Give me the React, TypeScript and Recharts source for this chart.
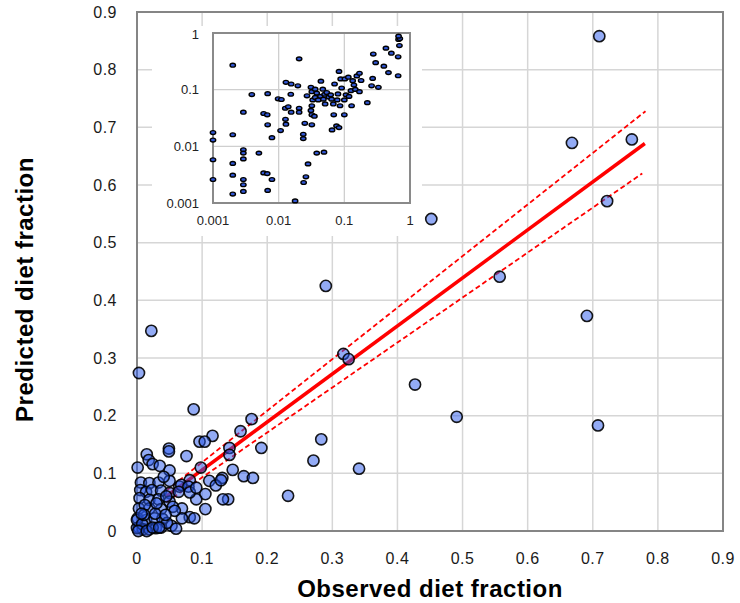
import {
  CartesianGrid,
  Label,
  ReferenceArea,
  Scatter,
  ScatterChart,
  XAxis,
  YAxis,
} from "recharts";

// main plot: observed vs predicted diet fraction
const mainTicks = [0, 0.1, 0.2, 0.3, 0.4, 0.5, 0.6, 0.7, 0.8, 0.9];

const observedX = [
  0.71, 0.668, 0.76, 0.722, 0.557, 0.691, 0.708, 0.452, 0.29, 0.317, 0.325, 0.427, 0.491,
  0.176, 0.159, 0.191, 0.142, 0.142, 0.147, 0.164, 0.178, 0.283, 0.271, 0.341, 0.232,
  0.003, 0.022, 0.087, 0.116, 0.096, 0.104, 0.049, 0.049, 0.015, 0.018, 0.076, 0.001,
  0.024, 0.035, 0.098, 0.05, 0.131, 0.111, 0.121, 0.14, 0.132, 0.105, 0.105, 0.091,
  0.069, 0.081, 0.088, 0.069, 0.053, 0.081, 0.065, 0.006, 0.019, 0.033, 0.05, 0.041,
  0.068, 0.079, 0.005, 0.014, 0.023, 0.037, 0.05, 0.064, 0.081, 0.091, 0.129, 0.004,
  0.019, 0.033, 0.05, 0.003, 0.019, 0.037, 0.055, 0.001, 0.014, 0.027, 0.039, 0.003,
  0.009, 0.019, 0.029, 0.037, 0.0, 0.0, 0.058, 0.045, 0.012, 0.028, 0.008, 0.046, 0.06,
  0.002, 0.015, 0.024, 0.034, 0.011, 0.03, 0.044, 0.007,
];
const predictedY = [
  0.858, 0.673, 0.679, 0.572, 0.441, 0.373, 0.183, 0.541, 0.425, 0.307, 0.298, 0.254, 0.198,
  0.194, 0.173, 0.144, 0.144, 0.132, 0.106, 0.095, 0.092, 0.159, 0.122, 0.108, 0.061,
  0.274, 0.347, 0.211, 0.165, 0.155, 0.155, 0.143, 0.138, 0.133, 0.123, 0.13, 0.11,
  0.116, 0.113, 0.11, 0.105, 0.092, 0.087, 0.079, 0.055, 0.055, 0.064, 0.038, 0.055,
  0.039, 0.024, 0.022, 0.022, 0.009, 0.088, 0.077, 0.084, 0.083, 0.084, 0.087, 0.094,
  0.08, 0.077, 0.071, 0.068, 0.071, 0.07, 0.066, 0.068, 0.067, 0.075, 0.088, 0.057,
  0.054, 0.055, 0.051, 0.039, 0.039, 0.038, 0.042, 0.022, 0.019, 0.022, 0.021, 0.006,
  0.003, 0.003, 0.005, 0.006, 0.005, 0.019, 0.035, 0.06, 0.045, 0.03, 0.012, 0.014, 0.004,
  0.0, 0.0, 0.006, 0.006, 0.028, 0.048, 0.028, 0.03,
];

// fitted line and its confidence band
const fitX = [0.045, 0.78];
const fitY = [0.06, 0.672];
const upperX = [0.045, 0.781];
const upperY = [0.07, 0.728];
const lowerX = [0.045, 0.776];
const lowerY = [0.05, 0.62];

// inset: same data on log-log axes
const logTicks = [0.001, 0.01, 0.1, 1];

const insetX = [
  0.002, 0.0205, 0.001, 0.001, 0.001, 0.001, 0.002, 0.002, 0.002, 0.002, 0.0029, 0.0029,
  0.0029, 0.0029, 0.0029, 0.0029, 0.0029, 0.0039, 0.005, 0.0059, 0.0067, 0.0059, 0.0067,
  0.0079, 0.0068, 0.0068, 0.0068, 0.0079, 0.0098, 0.011, 0.0107, 0.0129, 0.0155, 0.0153,
  0.0126, 0.014, 0.0155, 0.0127, 0.0129, 0.0196, 0.0205, 0.0205, 0.025, 0.0237, 0.0237,
  0.028, 0.026, 0.024, 0.0178, 0.027, 0.031, 0.032, 0.033, 0.032, 0.031, 0.032, 0.035,
  0.032, 0.044, 0.038, 0.049, 0.036, 0.038, 0.043, 0.036, 0.04, 0.047, 0.05, 0.048, 0.054,
  0.058, 0.051, 0.062, 0.071, 0.064, 0.068, 0.078, 0.069, 0.065, 0.076, 0.083, 0.083,
  0.08, 0.091, 0.086, 0.1, 0.1, 0.088, 0.102, 0.115, 0.106, 0.118, 0.126, 0.134, 0.14,
  0.147, 0.129, 0.155, 0.17, 0.17, 0.18, 0.224, 0.27, 0.26, 0.276, 0.3, 0.33, 0.43, 0.4,
  0.47, 0.52, 0.66, 0.66, 0.67, 0.7, 0.67, 0.69,
];
const insetY = [
  0.27, 0.35, 0.0175, 0.0129, 0.0058, 0.0026, 0.016, 0.005, 0.0031, 0.00144, 0.04, 0.0087,
  0.0076, 0.006, 0.0026, 0.0021, 0.0016, 0.082, 0.0076, 0.038, 0.036, 0.0034, 0.0033,
  0.0026, 0.085, 0.024, 0.00167, 0.0142, 0.069, 0.067, 0.019, 0.135, 0.126, 0.083, 0.047,
  0.05, 0.04, 0.03, 0.0246, 0.117, 0.047, 0.04, 0.0255, 0.0163, 0.0137, 0.0049, 0.0029,
  0.0023, 0.00109, 0.078, 0.11, 0.092, 0.066, 0.052, 0.043, 0.036, 0.034, 0.024, 0.141,
  0.0076, 0.0079, 0.102, 0.087, 0.076, 0.073, 0.066, 0.102, 0.083, 0.068, 0.089, 0.074,
  0.056, 0.081, 0.126, 0.068, 0.056, 0.066, 0.036, 0.0195, 0.023, 0.0214, 0.21, 0.084,
  0.107, 0.052, 0.066, 0.036, 0.155, 0.155, 0.166, 0.081, 0.076, 0.096, 0.144, 0.121,
  0.101, 0.052, 0.175, 0.195, 0.092, 0.145, 0.059, 0.158, 0.117, 0.425, 0.3, 0.11, 0.54,
  0.26, 0.2, 0.44, 0.38, 0.176, 0.77, 0.8, 0.88, 0.6,
];

const zip = (xs: number[], ys: number[]) => xs.map((x, i) => ({ x, y: ys[i] }));

const font = "'Liberation Sans', Arial, sans-serif";

const Dot = (p: any) => (
  <circle
    cx={p.cx}
    cy={p.cy}
    r={5.6}
    fill="#2858eb"
    fillOpacity={0.5}
    stroke="#000"
    strokeOpacity={0.9}
    strokeWidth={1.6}
  />
);

const SmallDot = (p: any) => (
  <ellipse cx={p.cx} cy={p.cy} rx={2.7} ry={1.9} fill="#3157d6" stroke="#000" strokeWidth={1.4} />
);

const NoDot = () => <g />;

export default function App() {
  const points = zip(observedX, predictedY);
  const inset = zip(insetX, insetY);

  return (
    <div style={{ position: "absolute", left: 0, top: 0, width: 740, height: 603, background: "#fff" }}>
      <ScatterChart
        width={740}
        height={603}
        margin={{ top: 12, right: 17, bottom: 0, left: 0 }}
        style={{ fontFamily: font }}
      >
        <CartesianGrid stroke="#d6d6d6" strokeWidth={1.5} />
        <XAxis
          type="number"
          dataKey="x"
          domain={[0, 0.9]}
          ticks={mainTicks}
          height={72}
          axisLine={false}
          tickLine={false}
          tickSize={0}
          tickMargin={22}
          tick={{ fontSize: 16, fill: "#1a1a1a", letterSpacing: 0.5 }}
        >
          <Label
            content={({ viewBox }: any) => (
              <text
                x={viewBox.x + viewBox.width / 2}
                y={viewBox.y + 66}
                textAnchor="middle"
                fontSize={24}
                fontWeight="bold"
                letterSpacing={0.5}
                fill="#000"
              >
                Observed diet fraction
              </text>
            )}
          />
        </XAxis>
        <YAxis
          type="number"
          dataKey="y"
          domain={[0, 0.9]}
          ticks={mainTicks}
          width={137}
          axisLine={false}
          tickLine={false}
          tickSize={0}
          tickMargin={20}
          tick={{ fontSize: 16, fill: "#1a1a1a", letterSpacing: 0.5 }}
        >
          <Label
            content={({ viewBox }: any) => {
              const cx = viewBox.x + 24;
              const cy = viewBox.y + viewBox.height / 2 + 18;
              return (
                <text
                  x={cx}
                  y={cy}
                  transform={`rotate(-90 ${cx} ${cy})`}
                  textAnchor="middle"
                  dominantBaseline="central"
                  fontSize={24}
                  fontWeight="bold"
                  letterSpacing={0.5}
                  fill="#000"
                >
                  Predicted diet fraction
                </text>
              );
            }}
          />
        </YAxis>
        <ReferenceArea x1={0} x2={0.9} y1={0} y2={0.9} fill="none" stroke="#858585" strokeWidth={2} />
        <Scatter
          data={zip(upperX, upperY)}
          shape={NoDot}
          line={{ stroke: "#ff0000", strokeWidth: 1.8, strokeDasharray: "5 3" }}
          isAnimationActive={false}
        />
        <Scatter
          data={zip(lowerX, lowerY)}
          shape={NoDot}
          line={{ stroke: "#ff0000", strokeWidth: 1.8, strokeDasharray: "5 3" }}
          isAnimationActive={false}
        />
        <Scatter
          data={zip(fitX, fitY)}
          shape={NoDot}
          line={{ stroke: "#ff0000", strokeWidth: 3.5 }}
          isAnimationActive={false}
        />
        <Scatter data={points} shape={Dot} isAnimationActive={false} />
      </ScatterChart>

      <div style={{ position: "absolute", left: 152, top: 26, width: 270, height: 210, background: "#fff" }}>
        <ScatterChart
          width={270}
          height={210}
          margin={{ top: 7, right: 12, bottom: 0, left: 0 }}
          style={{ fontFamily: font }}
        >
          <CartesianGrid stroke="#cfcfcf" strokeWidth={1.3} />
          <XAxis
            type="number"
            dataKey="x"
            scale="log"
            domain={[0.001, 1]}
            ticks={logTicks}
            height={33}
            axisLine={false}
            tickLine={false}
            tickSize={0}
            tickMargin={13}
            tick={{ fontSize: 13, fill: "#222" }}
          />
          <YAxis
            type="number"
            dataKey="y"
            scale="log"
            domain={[0.001, 1]}
            ticks={logTicks}
            width={61}
            axisLine={false}
            tickLine={false}
            tickSize={0}
            tickMargin={14}
            tick={{ fontSize: 13, fill: "#222" }}
          />
          <ReferenceArea x1={0.001} x2={1} y1={0.001} y2={1} fill="none" stroke="#8a8a8a" strokeWidth={2} />
          <Scatter data={inset} shape={SmallDot} isAnimationActive={false} />
        </ScatterChart>
      </div>
    </div>
  );
}
